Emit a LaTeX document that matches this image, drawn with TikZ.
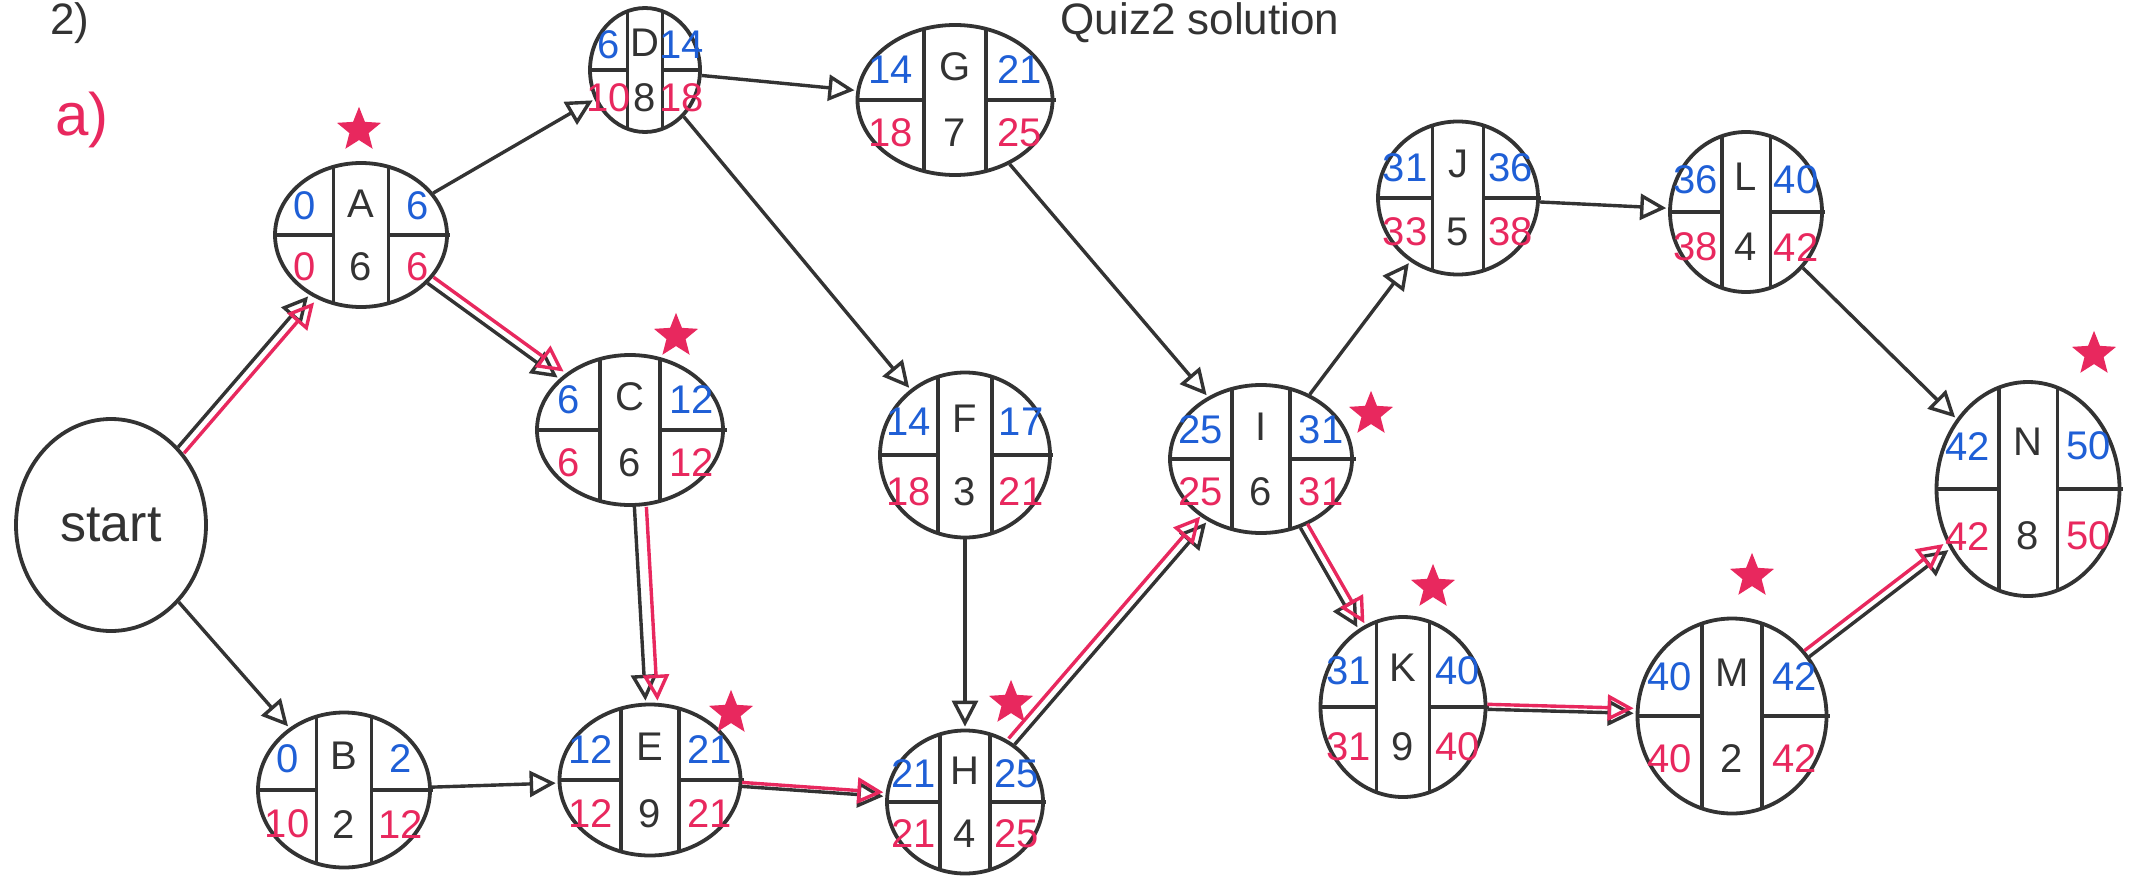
\documentclass[tikz,border=0pt]{standalone}
\usepackage{fontspec}
\setmainfont{Liberation Sans}
\usetikzlibrary{shapes.geometric,arrows.meta,calc}
\definecolor{inkb}{HTML}{333333}
\definecolor{inkblue}{HTML}{1F5FD6}
\definecolor{inkred}{HTML}{E8285E}
\begin{document}
\begin{tikzpicture}[x=0.5pt,y=-0.5pt,
  act/.style={ellipse, draw=inkb, line width=1.9pt, inner sep=0pt},
  divl/.style={draw=inkb, line width=1.8pt},
  edge/.style={draw=inkb, line width=1.7pt, -{Triangle[open,length=13pt,width=13pt,line width=1.7pt]}, shorten >=1pt},
  critr/.style={draw=inkred, line width=1.7pt, -{Triangle[open,length=13pt,width=13pt,line width=1.7pt]}, shorten >=1pt},
  num/.style={font=\fontsize{20}{20}\selectfont, inner sep=0pt},
  es/.style={num, text=inkblue},
  ls/.style={num, text=inkred},
  mid/.style={num, text=inkb},
  mark5/.style={star, star points=5, star point ratio=2.3, fill=inkred, draw=inkred, line width=0.8pt, minimum size=21pt, inner sep=0pt},
  hand/.style={text=inkb, inner sep=0pt}
]
\useasboundingbox (0,0) rectangle (2150,883);

% heading texts
\node[hand, anchor=north, font=\fontsize{22}{22}\selectfont] (t2) at (70,2) {2)};
\node[hand, anchor=north, font=\fontsize{22}{22}\selectfont] (tsol) at (1200,2) {Quiz2 solution};
\node[hand, text=inkred, font=\fontsize{30}{30}\selectfont] (ta) at (82,120) {a)};

% start node
\node[act, minimum width=95pt, minimum height=106pt, font=\fontsize{26}{26}\selectfont, text=inkb] (start) at (111,525) {start};

% activity nodes
\foreach \n/\px/\py/\w/\h/\lab/\du/\es/\ef/\ls/\lf in {
  A/361/235/172/144/A/6/0/6/0/6,
  B/344/790/172/155/B/2/0/2/10/12,
  C/630/430/186/150/C/6/6/12/6/12,
  D/645/70/110/124/D/8/6/14/10/18,
  E/650/780/181/151/E/9/12/21/12/21,
  F/965/455/170/165/F/3/14/17/18/21,
  G/955/100/195/150/G/7/14/21/18/25,
  H/965/802/156/143/H/4/21/25/21/25,
  I/1261/459/182/148/I/6/25/31/25/31,
  J/1458/198/160/153/J/5/31/36/33/38,
  K/1403/707/165/180/K/9/31/40/31/40,
  L/1746/212/152/160/L/4/36/40/38/42,
  M/1732/716/189/195/M/2/40/42/40/42,
  N/2028/489/183/214/N/8/42/50/42/50}
{
  \node[act, minimum width=\w*0.5pt, minimum height=\h*0.5pt] (\n) at (\px,\py) {};
  \draw[divl] ($(\n.center)+({-0.16*\w},{-0.47*\h})$) -- ($(\n.center)+({-0.16*\w},{0.47*\h})$);
  \draw[divl] ($(\n.center)+({0.16*\w},{-0.47*\h})$) -- ($(\n.center)+({0.16*\w},{0.47*\h})$);
  \draw[divl] ($(\n.center)+({-0.5*\w},0)$) -- ($(\n.center)+({-0.16*\w},0)$);
  \draw[divl] ($(\n.center)+({0.16*\w},0)$) -- ($(\n.center)+({0.52*\w},0)$);
  \node[es]  (\n-es) at ($(\n.center)+({-0.33*\w},{-0.2*\h})$) {\es};
  \node[ls]  (\n-ls) at ($(\n.center)+({-0.33*\w},{0.22*\h})$) {\ls};
  \node[mid] (\n-lab) at ($(\n.center)+(0,{-0.22*\h})$) {\lab};
  \node[mid] (\n-du) at ($(\n.center)+(0,{0.22*\h})$) {\du};
  \node[es]  (\n-ef) at ($(\n.center)+({0.33*\w},{-0.2*\h})$) {\ef};
  \node[ls]  (\n-lf) at ($(\n.center)+({0.33*\w},{0.22*\h})$) {\lf};
}

% critical-path stars
\node[mark5] (sA) at (359,130) {};
\node[mark5] (sC) at (676,336) {};
\node[mark5] (sE) at (731,713) {};
\node[mark5] (sH) at (1011,703) {};
\node[mark5] (sI) at (1371,414) {};
\node[mark5] (sK) at (1433,587) {};
\node[mark5] (sM) at (1752,576) {};
\node[mark5] (sN) at (2094,354) {};

% ordinary connectors
\draw[edge] (start) -- (B);
\draw[edge] (A) -- (D);
\draw[edge] (D) -- (G);
\draw[edge] (D) -- (F);
\draw[edge] (B) -- (E);
\draw[edge] (F) -- (H);
\draw[edge] (G) -- (I);
\draw[edge] (I) -- (J);
\draw[edge] (J) -- (L);
\draw[edge] (L) -- (N);

% critical connectors: black line with a red line beside it
\draw[edge] (start) -- (A);
\draw[critr, transform canvas={shift={(3pt,-3pt)}}] (start) -- (A);
\draw[edge] (A) -- (C);
\draw[critr, transform canvas={shift={(3pt,3pt)}}] (A) -- (C);
\draw[edge] (C) -- (E);
\draw[critr, transform canvas={shift={(6pt,0pt)}}] (C) -- (E);
\draw[edge] (E) -- (H);
\draw[critr, transform canvas={shift={(0pt,2pt)}}] (E) -- (H);
\draw[edge] (H) -- (I);
\draw[critr, transform canvas={shift={(-3pt,3pt)}}] (H) -- (I);
\draw[edge] (I) -- (K);
\draw[critr, transform canvas={shift={(3.5pt,2pt)}}] (I) -- (K);
\draw[edge] (K) -- (M);
\draw[critr, transform canvas={shift={(0pt,2.5pt)}}] (K) -- (M);
\draw[edge] (M) -- (N);
\draw[critr, transform canvas={shift={(-2.5pt,3pt)}}] (M) -- (N);
\end{tikzpicture}
\end{document}
